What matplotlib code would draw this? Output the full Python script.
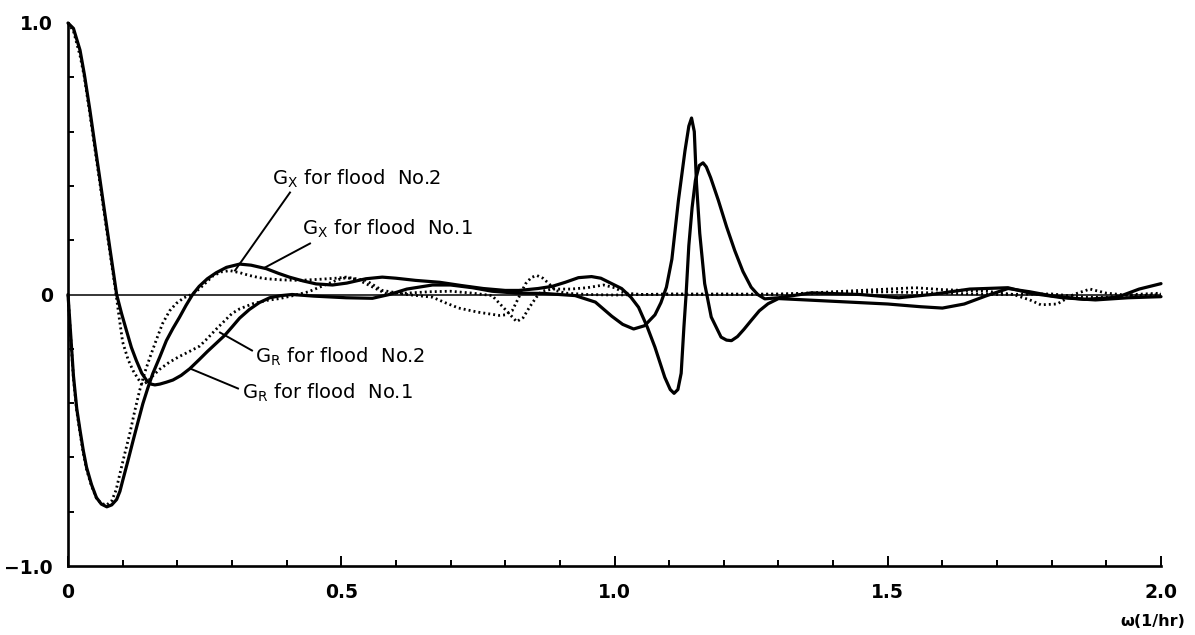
import numpy as np
import matplotlib
matplotlib.use("Agg")
import matplotlib.pyplot as plt
from matplotlib.ticker import FixedLocator

# ---------------- data ----------------
gr1_w = [0, 0.01, 0.022, 0.03, 0.04, 0.05, 0.058, 0.068, 0.077, 0.083, 0.089, 0.098, 0.107, 0.116,
         0.125, 0.135, 0.144, 0.152, 0.159, 0.168, 0.18, 0.192, 0.207, 0.223, 0.24, 0.255, 0.271,
         0.287, 0.30, 0.314, 0.332, 0.35, 0.369, 0.39, 0.41, 0.45, 0.509, 0.557, 0.588, 0.62, 0.667,
         0.70, 0.74, 0.776, 0.82, 0.87, 0.928, 0.965, 0.995, 1.015, 1.035, 1.055, 1.074, 1.085,
         1.095, 1.105, 1.117, 1.129, 1.136, 1.141, 1.146, 1.150, 1.156, 1.165, 1.177, 1.195, 1.205,
         1.214, 1.225, 1.237, 1.25, 1.265, 1.281, 1.30, 1.40, 1.50, 1.56, 1.60, 1.64, 1.68, 1.72,
         1.76, 1.80, 1.86, 1.92, 1.96, 2.0]
gr1_v = [1.0, 0.98, 0.90, 0.81, 0.68, 0.54, 0.43, 0.29, 0.165, 0.083, 0.0, -0.07, -0.133, -0.195,
         -0.243, -0.29, -0.317, -0.33, -0.333, -0.33, -0.323, -0.315, -0.298, -0.273, -0.24, -0.21,
         -0.18, -0.15, -0.12, -0.087, -0.055, -0.03, -0.012, -0.004, 0.0, -0.006, -0.012, -0.014,
         0.0, 0.02, 0.035, 0.035, 0.025, 0.012, 0.005, 0.004, -0.004, -0.028, -0.08, -0.11, -0.127,
         -0.115, -0.075, -0.03, 0.027, 0.13, 0.347, 0.53, 0.62, 0.65, 0.60, 0.41, 0.225, 0.04,
         -0.083, -0.157, -0.168, -0.17, -0.155, -0.128, -0.096, -0.06, -0.034, -0.015, -0.025,
         -0.035, -0.045, -0.05, -0.035, -0.005, 0.022, 0.01, -0.005, -0.018, -0.01, 0.02, 0.04]

gx1_w = [0, 0.005, 0.01, 0.016, 0.022, 0.028, 0.034, 0.043, 0.052, 0.061, 0.071, 0.080, 0.089,
         0.095, 0.100, 0.110, 0.119, 0.128, 0.137, 0.146, 0.155, 0.168, 0.18, 0.192, 0.204, 0.216,
         0.228, 0.24, 0.255, 0.271, 0.29, 0.314, 0.335, 0.363, 0.385, 0.405, 0.43, 0.454, 0.484,
         0.51, 0.545, 0.575, 0.60, 0.636, 0.68, 0.72, 0.76, 0.80, 0.825, 0.86, 0.886, 0.91, 0.934,
         0.958, 0.975, 0.995, 1.013, 1.03, 1.044, 1.06, 1.074, 1.092, 1.102, 1.109, 1.116, 1.122,
         1.127, 1.131, 1.136, 1.142, 1.148, 1.155, 1.162, 1.168, 1.176, 1.19, 1.205, 1.22, 1.235,
         1.25, 1.262, 1.275, 1.30, 1.36, 1.45, 1.52, 1.58, 1.65, 1.72, 1.76, 1.82, 1.88, 1.94, 2.0]
gx1_v = [0.0, -0.15, -0.30, -0.42, -0.50, -0.575, -0.637, -0.70, -0.748, -0.772, -0.782, -0.775,
         -0.755, -0.725, -0.686, -0.61, -0.539, -0.47, -0.402, -0.345, -0.292, -0.23, -0.17,
         -0.125, -0.084, -0.04, 0.0, 0.03, 0.058, 0.08, 0.10, 0.112, 0.108, 0.095, 0.078, 0.064,
         0.05, 0.039, 0.035, 0.042, 0.058, 0.064, 0.06, 0.052, 0.045, 0.033, 0.022, 0.015, 0.015,
         0.022, 0.03, 0.045, 0.062, 0.066, 0.06, 0.04, 0.022, -0.01, -0.047, -0.12, -0.194, -0.305,
         -0.35, -0.364, -0.35, -0.29, -0.12, 0.0, 0.18, 0.32, 0.42, 0.475, 0.485, 0.47, 0.43, 0.347,
         0.25, 0.162, 0.085, 0.027, 0.0, -0.016, -0.012, 0.006, 0.0, -0.012, 0.0, 0.02, 0.025,
         0.005, -0.012, -0.02, -0.012, -0.008]

gr2_w = [0, 0.01, 0.022, 0.03, 0.04, 0.05, 0.058, 0.068, 0.077, 0.083, 0.088, 0.094, 0.10, 0.11,
         0.119, 0.128, 0.136, 0.145, 0.155, 0.168, 0.185, 0.204, 0.222, 0.241, 0.256, 0.271, 0.285,
         0.30, 0.314, 0.338, 0.363, 0.387, 0.41, 0.44, 0.47, 0.495, 0.509, 0.53, 0.555, 0.58, 0.62,
         0.66, 0.70, 0.74, 0.776, 0.80, 0.821, 0.833, 0.845, 0.857, 0.867, 0.886, 0.92, 0.95, 0.98,
         1.0, 1.02, 1.05, 1.2, 1.3, 1.4, 1.5, 1.55, 1.6, 1.68, 1.73, 1.76, 1.78, 1.81, 1.84, 1.87,
         1.9, 1.95, 2.0]
gr2_v = [1.0, 0.97, 0.88, 0.80, 0.665, 0.525, 0.415, 0.275, 0.15, 0.07, 0.0, -0.09, -0.175, -0.24,
         -0.28, -0.31, -0.332, -0.322, -0.30, -0.275, -0.25, -0.228, -0.21, -0.19, -0.16, -0.128,
         -0.10, -0.07, -0.053, -0.034, -0.022, -0.015, -0.005, 0.01, 0.035, 0.055, 0.062, 0.055,
         0.03, 0.005, 0.005, 0.01, 0.012, 0.005, -0.004, -0.055, -0.10, -0.085, -0.045, -0.01,
         0.012, 0.02, 0.02, 0.025, 0.035, 0.025, 0.005, 0.0, 0.002, 0.0, 0.01, 0.02, 0.025, 0.018,
         0.012, 0.0, -0.02, -0.038, -0.035, 0.0, 0.02, 0.005, -0.005, 0.0]

gx2_w = [0, 0.005, 0.01, 0.016, 0.022, 0.028, 0.034, 0.043, 0.052, 0.061, 0.071, 0.08, 0.088,
         0.095, 0.104, 0.113, 0.122, 0.131, 0.14, 0.15, 0.162, 0.173, 0.186, 0.198, 0.212, 0.226,
         0.24, 0.253, 0.265, 0.28, 0.296, 0.315, 0.332, 0.35, 0.363, 0.39, 0.423, 0.46, 0.49, 0.509,
         0.545, 0.575, 0.62, 0.667, 0.69, 0.715, 0.75, 0.789, 0.80, 0.813, 0.825, 0.837, 0.848,
         0.858, 0.869, 0.88, 0.892, 0.91, 0.95, 1.0, 1.1, 1.2, 1.3, 1.4, 1.5, 1.6, 1.7, 1.8, 1.86,
         1.9, 1.95, 2.0]
gx2_v = [0.0, -0.16, -0.31, -0.43, -0.51, -0.585, -0.645, -0.705, -0.75, -0.77, -0.775, -0.76,
         -0.72, -0.66, -0.585, -0.513, -0.43, -0.354, -0.29, -0.231, -0.165, -0.107, -0.06, -0.033,
         -0.012, 0.0, 0.02, 0.045, 0.068, 0.083, 0.088, 0.08, 0.07, 0.062, 0.058, 0.054, 0.052,
         0.056, 0.06, 0.064, 0.052, 0.015, 0.0, -0.01, -0.03, -0.05, -0.065, -0.077, -0.075,
         -0.059, -0.01, 0.039, 0.063, 0.07, 0.06, 0.04, 0.015, 0.005, 0.0, -0.002, 0.002, 0.0,
         0.002, 0.005, 0.01, 0.005, 0.0, 0.002, -0.01, -0.01, 0.0, 0.005]

x_major = [0, 0.5, 1.0, 1.5, 2.0]
x_major_labels = ["0", "0.5", "1.0", "1.5", "2.0"]
y_major = [-1.0, 0, 1.0]
y_major_labels = ["\u22121.0", "0", "1.0"]

labels = [r"$\mathregular{G_X}$ for flood  No.2",
          r"$\mathregular{G_X}$ for flood  No.1",
          r"$\mathregular{G_R}$ for flood  No.2",
          r"$\mathregular{G_R}$ for flood  No.1"]

# ---------------- figure ----------------
W, H = 1195, 635
fig = plt.figure(figsize=(W / 100, H / 100), dpi=100)
ax = fig.add_axes([68 / W, 1 - 566 / H, (1161 - 68) / W, (566 - 23) / H])
ax.set_xlim(0, 2.0)
ax.set_ylim(-1.0, 1.0)

ax.axhline(0, color="black", lw=1.1, zorder=1)

solid = dict(color="black", lw=2.3, solid_capstyle="round", solid_joinstyle="round", zorder=3)
dotted = dict(color="black", lw=2.0, linestyle=(0, (0.7, 1.1)), dash_capstyle="butt", zorder=2)

ax.plot(gr1_w, gr1_v, clip_on=False, **solid)
ax.plot(gx1_w, gx1_v, clip_on=False, **solid)
ax.plot(gr2_w, gr2_v, clip_on=False, **dotted)
ax.plot(gx2_w, gx2_v, clip_on=False, **dotted)

for s in ["top", "right"]:
    ax.spines[s].set_visible(False)
for s in ["left", "bottom"]:
    ax.spines[s].set_linewidth(1.9)

ax.set_xticks(x_major)
ax.set_xticklabels(x_major_labels)
ax.xaxis.set_minor_locator(FixedLocator([i / 10 for i in range(1, 20) if i % 5]))
ax.set_yticks(y_major)
ax.set_yticklabels(y_major_labels)
ax.yaxis.set_minor_locator(FixedLocator([-0.8, -0.6, -0.4, -0.2, 0.2, 0.4, 0.6, 0.8]))

ax.tick_params(axis="x", which="major", direction="in", length=7, width=1.4,
               labelsize=13.5, pad=12)
ax.tick_params(axis="x", which="minor", direction="in", length=4, width=1.4)
ax.tick_params(axis="y", which="major", direction="in", length=0, width=1.4,
               labelsize=13.5, pad=11)
ax.tick_params(axis="y", which="minor", direction="in", length=4, width=1.4)
for t in ax.get_xticklabels() + ax.get_yticklabels():
    t.set_fontweight("bold")

fig.text(1153 / W, 1 - 622 / H, "\u03c9(1/hr)", ha="center", va="center",
         fontsize=11.5, fontweight="bold")

def px(x, y):
    return ((x - 68) / 1093 * 2.0, (294 - y) / 271.5)

ann = [
    (labels[0], (272, 178), (290, 192), (235, 270)),
    (labels[1], (302, 228), (310, 243), (265, 267)),
    (labels[2], (255, 356), (252, 350), (220, 332)),
    (labels[3], (242, 392), (238, 388), (190, 368)),
]
for txt, tpos, p0, p1 in ann:
    tx, ty = px(*tpos)
    ax.text(tx, ty, txt, ha="left", va="center", fontsize=14, zorder=5)
    (x0, y0), (x1, y1) = px(*p0), px(*p1)
    ax.plot([x0, x1], [y0, y1], color="black", lw=1.4, zorder=4)

fig.savefig("out.png", dpi=100)
